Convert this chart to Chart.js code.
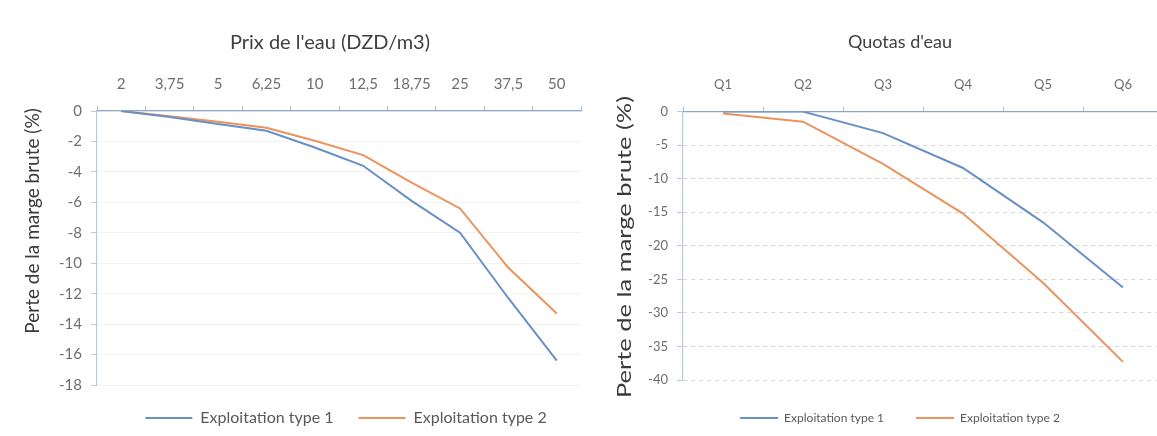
<!DOCTYPE html>
<html>
<head>
<meta charset="utf-8">
<script src="https://cdn.jsdelivr.net/npm/chart.js@4.4.1/dist/chart.umd.min.js"></script>
<style>
  html, body { margin: 0; padding: 0; background: #fff; overflow: hidden; width: 1157px; height: 436px; }
  .panel { position: absolute; top: 0; height: 436px; }
  #panelPrix { left: 0; width: 590px; }
  #panelQuotas { left: 580px; width: 590px; }
</style>
</head>
<body>
<div class="panel" id="panelPrix"><canvas id="prix" width="590" height="436"></canvas></div>
<div class="panel" id="panelQuotas"><canvas id="quotas" width="590" height="436"></canvas></div>
<script>
// Water price scenarios (DZD/m3) and loss of gross margin (%)
const prixLabels = ['2', '3,75', '5', '6,25', '10', '12,5', '18,75', '25', '37,5', '50'];
const prixType1 = [0, -0.4, -0.85, -1.3, -2.4, -3.6, -5.9, -8.0, -12.3, -16.4];
const prixType2 = [0, -0.35, -0.7, -1.1, -1.95, -2.9, -4.7, -6.4, -10.3, -13.3];

// Water quota scenarios and loss of gross margin (%)
const quotaLabels = ['Q1', 'Q2', 'Q3', 'Q4', 'Q5', 'Q6'];
const quotaType1 = [0, 0, -3.2, -8.4, -16.5, -26.2];
const quotaType2 = [-0.3, -1.5, -7.8, -15.2, -25.5, -37.3];

const seriesNames = ['Exploitation type 1', 'Exploitation type 2'];
const prixTitle = "Prix de l'eau (DZD/m3)";
const quotaTitle = "Quotas d'eau";
const yTitle = 'Perte de la marge brute (%)';

const BLUE = '#6790c6';
const ORANGE = '#eb935c';
const FONT = 'Lato, "Open Sans", sans-serif';

// Shifts title and legend horizontally after layout
const shiftBlocks = {
  id: 'shiftBlocks',
  afterLayout(chart, args, opts) {
    const t = chart.titleBlock, l = chart.legend;
    if (t) { t.left += opts.titleDx || 0; t.right += opts.titleDx || 0; }
    if (l) { l.left += opts.legendDx || 0; l.right += opts.legendDx || 0; }
  }
};

// Rotated axis title drawn at a chosen centre, optionally stretched along its length
const sideTitle = {
  id: 'sideTitle',
  afterDraw(chart, args, o) {
    if (!o.text) return;
    const ctx = chart.ctx;
    ctx.save();
    ctx.translate(o.x, o.y);
    ctx.rotate(-Math.PI / 2);
    ctx.scale(o.stretch || 1, 1);
    ctx.font = `${o.weight || 'normal'} ${o.size}px ${FONT}`;
    ctx.fillStyle = o.color;
    ctx.textAlign = 'center';
    ctx.textBaseline = 'middle';
    ctx.fillText(o.text, 0, 0);
    ctx.restore();
  }
};

function lineDataset(label, data, color) {
  return {
    label, data,
    borderColor: color,
    backgroundColor: color,
    borderWidth: 2,
    pointRadius: 0,
    pointHoverRadius: 0,
    tension: 0,
    fill: false
  };
}

function buildChart(id, cfg) {
  return new Chart(document.getElementById(id), {
    type: 'line',
    data: {
      labels: cfg.labels,
      datasets: [
        lineDataset(seriesNames[0], cfg.s1, BLUE),
        lineDataset(seriesNames[1], cfg.s2, ORANGE)
      ]
    },
    plugins: [shiftBlocks, sideTitle],
    options: {
      responsive: false,
      animation: false,
      events: [],
      layout: { padding: { left: 0, right: cfg.padRight, top: 0, bottom: cfg.padBottom } },
      plugins: {
        title: {
          display: true,
          text: cfg.title,
          fullSize: false,
          color: '#404040',
          font: { family: FONT, size: cfg.titleSize, weight: 'normal' },
          padding: { top: cfg.titleTop, bottom: cfg.titleBottom }
        },
        legend: {
          display: true,
          position: 'bottom',
          fullSize: false,
          labels: {
            usePointStyle: true,
            pointStyle: 'line',
            pointStyleWidth: cfg.legendLine,
            color: '#595959',
            padding: cfg.legendPad,
            font: { family: FONT, size: cfg.legendSize }
          }
        },
        tooltip: { enabled: false },
        shiftBlocks: { titleDx: cfg.titleDx, legendDx: cfg.legendDx },
        sideTitle: {
          text: yTitle, x: cfg.yTitleX, y: cfg.yTitleY, size: cfg.yTitleSize,
          stretch: cfg.yTitleStretch, color: '#3a3a3a'
        }
      },
      scales: {
        x: {
          type: 'category',
          position: 'top',
          offset: true,
          grid: {
            offset: true,
            drawOnChartArea: false,
            tickLength: 5,
            tickColor: '#a8c0d8'
          },
          border: { color: '#8fa8c2', width: 1.2 },
          ticks: {
            color: '#6e6e6e',
            padding: cfg.xPad,
            font: { family: FONT, size: cfg.xTickSize }
          },
          afterFit(scale) { scale.height = cfg.xHeight; }
        },
        y: {
          min: cfg.yMin,
          max: 0,
          grid: {
            color: cfg.gridColor,
            tickColor: '#b3cce4',
            tickLength: 6
          },
          border: { color: '#b3cce4', width: 1.2, dash: cfg.gridDash },
          ticks: {
            stepSize: cfg.yStep,
            color: '#6e6e6e',
            padding: 9,
            font: { family: FONT, size: cfg.yTickSize }
          },
          afterFit(scale) { scale.width = cfg.yWidth; }
        }
      }
    }
  });
}

buildChart('prix', {
  labels: prixLabels, s1: prixType1, s2: prixType2,
  title: prixTitle, titleSize: 20, titleTop: 31, titleBottom: 9,
  xHeight: 47, xPad: 13, xTickSize: 15, yTickSize: 15,
  yMin: -18, yStep: 2, yWidth: 97,
  gridColor: '#f3f3f3', gridDash: [],
  padRight: 9, padBottom: 0,
  legendSize: 16, legendPad: 25, legendLine: 47, titleDx: -9, legendDx: 7,
  yTitleX: 33, yTitleY: 221, yTitleSize: 19, yTitleStretch: 1
});

buildChart('quotas', {
  labels: quotaLabels, s1: quotaType1, s2: quotaType2,
  title: quotaTitle, titleSize: 18, titleTop: 31, titleBottom: 6,
  xHeight: 53, xPad: 14, xTickSize: 13, yTickSize: 13,
  yMin: -40, yStep: 5, yWidth: 103,
  gridColor: '#d6d6d6', gridDash: [4, 4],
  padRight: 7, padBottom: 2,
  legendSize: 12, legendPad: 32, legendLine: 38, titleDx: -23, legendDx: -23,
  yTitleX: 45, yTitleY: 247, yTitleSize: 19, yTitleStretch: 1.34
});
</script>
</body>
</html>
